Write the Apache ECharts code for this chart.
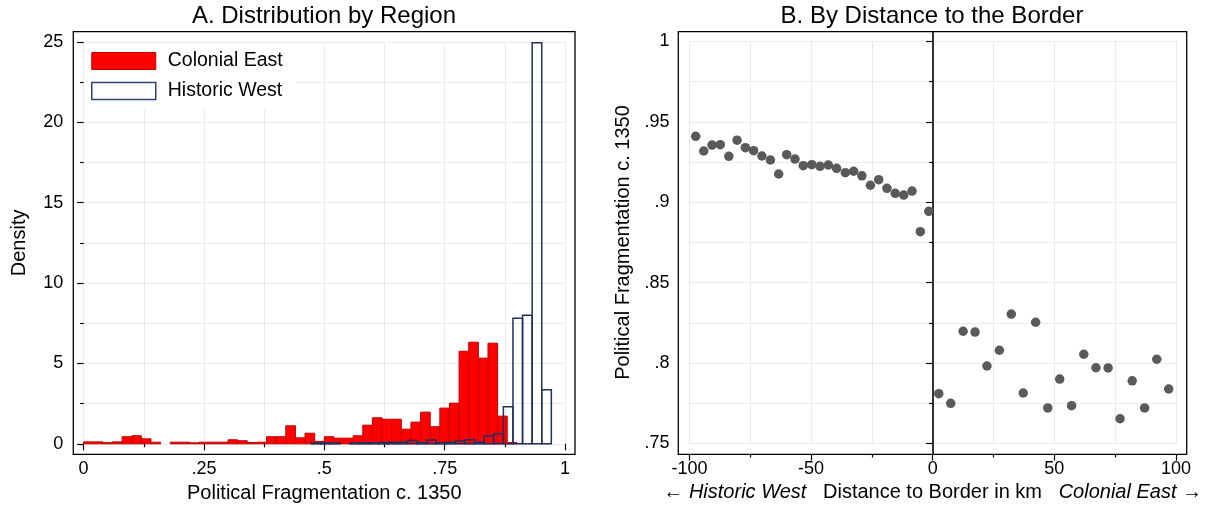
<!DOCTYPE html>
<html>
<head>
<meta charset="utf-8">
<script src="https://cdn.jsdelivr.net/npm/echarts@6/dist/echarts.min.js"></script>
<style>
html,body{margin:0;padding:0;background:#fff;}
#chart{width:1215px;height:508px;}
</style>
</head>
<body>
<div id="chart"></div>
<script>
// ---------- Panel A: histogram data (bin left edge, density) ----------
const redBinWidth = 0.02;
const redBinLeft = [0.00,0.02,0.04,0.06,0.08,0.10,0.12,0.14,0.16,0.18,0.20,0.22,0.24,0.26,0.28,0.30,0.32,0.34,0.36,0.38,0.40,0.42,0.44,0.46,0.48,0.50,0.52,0.54,0.56,0.58,0.60,0.62,0.64,0.66,0.68,0.70,0.72,0.74,0.76,0.78,0.80,0.82,0.84,0.86,0.88];
const redDensity = [0.12,0.12,0.07,0.12,0.44,0.50,0.31,0.10,0,0.10,0.10,0.06,0.10,0.10,0.10,0.25,0.19,0.08,0.10,0.44,0.44,1.12,0.37,0.66,0.15,0.44,0.35,0.35,0.50,1.16,1.62,1.53,1.53,0.91,1.35,1.97,1.06,2.22,2.53,5.76,6.32,5.33,6.26,1.72,0.08];

const westBinWidth = 0.0199;
const westBinLeft = [0.4734,0.4934,0.5133,0.5531,0.5731,0.5930,0.6129,0.6329,0.6528,0.6727,0.6926,0.7125,0.7324,0.7524,0.7723,0.7922,0.8122,0.8321,0.8520,0.8720,0.8919,0.9118,0.9318,0.9517];
const westDensity = [0.05,0.06,0.05,0.05,0.06,0.06,0.08,0.08,0.10,0.21,0.07,0.23,0.06,0.10,0.19,0.25,0.10,0.48,0.63,2.30,7.81,8.00,24.96,3.36];

const panelAxTicksX = ['0','.25','.5','.75','1'];

// ---------- Panel B: binned scatter ----------
const westDistance = [-97.4,-94.1,-90.7,-87.3,-83.8,-80.4,-77.0,-73.6,-70.2,-66.7,-63.3,-60.0,-56.6,-53.2,-49.7,-46.3,-42.9,-39.5,-35.9,-32.5,-29.1,-25.6,-22.2,-18.8,-15.4,-11.9,-8.5,-5.1,-1.6];
const westFragmentation = [0.941,0.9319,0.9356,0.9358,0.9286,0.9386,0.934,0.9321,0.9288,0.9263,0.9176,0.9296,0.9269,0.9228,0.9234,0.9224,0.9232,0.9211,0.9184,0.9193,0.9165,0.9106,0.9141,0.9087,0.9056,0.9045,0.907,0.8817,0.8944];
const eastDistance = [2.5,7.4,12.5,17.4,22.3,27.4,32.3,37.2,42.3,47.3,52.2,57.1,62.1,67.1,72.1,77.0,82.0,87.1,92.1,97.0];
const eastFragmentation = [0.781,0.775,0.8198,0.8193,0.7982,0.808,0.8305,0.7814,0.8254,0.7721,0.7901,0.7735,0.8055,0.7971,0.797,0.7654,0.789,0.7721,0.8024,0.7839];

// ---------- helpers ----------
function fracLabel(v){
  if (Math.abs(v) < 1e-9) return '0';
  if (Math.abs(v-1) < 1e-9) return '1';
  let s = (+v.toFixed(4)).toString();
  return s.replace(/^0\./,'.');
}
function histRender(width, style){
  return function(params, api){
    const x0 = api.value(0), h = api.value(1);
    if (!(h > 0)) return null;
    const a = api.coord([x0, 0]);
    const b = api.coord([x0 + width, h]);
    return {type:'rect', shape:{x:a[0], y:b[1], width:b[0]-a[0], height:a[1]-b[1]}, style: style};
  };
}

const FONT = 'Liberation Sans, Arial, Helvetica, sans-serif';
const gridLineStyle = {color:'#ebebeb', width:1};
const tickCommon = {show:true, inside:false, length:6.5, lineStyle:{color:'#000', width:1.2}};
const minorCommon = {show:true, splitNumber:2, length:3.5, lineStyle:{color:'#000', width:1.2}};
const labelCommon = {color:'#000', fontSize:18, fontFamily:FONT};

const chart = echarts.init(document.getElementById('chart'), null, {renderer:'canvas'});
chart.setOption({
  animation:false,
  backgroundColor:'#fff',
  textStyle:{fontFamily:FONT},
  title:[
    {text:'A. Distribution by Region', left:324, top:4, padding:0, textAlign:'center',
     textStyle:{fontSize:24, fontWeight:'normal', color:'#000', fontFamily:FONT}},
    {text:'B. By Distance to the Border', left:932, top:4, padding:0, textAlign:'center',
     textStyle:{fontSize:24, fontWeight:'normal', color:'#000', fontFamily:FONT}}
  ],
  legend:{
    left:84, top:43, orient:'vertical', icon:'rect', selectedMode:false,
    itemWidth:64, itemHeight:17, itemGap:10,
    backgroundColor:'#fff', padding:[8,14,8,7],
    textStyle:{fontSize:19.5, color:'#000', fontFamily:FONT, padding:[0,0,0,7]},
    data:[
      {name:'Colonial East', itemStyle:{color:'#ff0000', borderColor:'#c40000', borderWidth:1}},
      {name:'Historic West', itemStyle:{color:'#ffffff', borderColor:'#34426e', borderWidth:1.5}}
    ]
  },
  grid:[
    {left:73.3, top:31.7, width:501.7, height:422.6, show:true, borderColor:'#000', borderWidth:1.3, backgroundColor:'transparent'},
    {left:83.6, top:42, width:481.4, height:402},
    {left:678.3, top:31.7, width:508.4, height:422.6, show:true, borderColor:'#000', borderWidth:1.3, backgroundColor:'transparent'},
    {left:689.4, top:41.5, width:486.6, height:402}
  ],
  xAxis:[
    {gridIndex:0, type:'value', show:false, min:-0.0214, max:1.0208},
    {gridIndex:1, type:'value', min:0, max:1, interval:0.25, offset:10.3,
     axisLine:{show:false}, axisTick:tickCommon, minorTick:minorCommon,
     splitLine:{show:true, lineStyle:gridLineStyle}, minorSplitLine:{show:true, lineStyle:gridLineStyle},
     axisLabel:Object.assign({margin:6, formatter:(v)=>fracLabel(v)}, labelCommon),
     name:'Political Fragmentation c. 1350', nameLocation:'middle', nameGap:28,
     nameTextStyle:{fontSize:20, color:'#000', fontFamily:FONT}},
    {gridIndex:2, type:'value', show:false, min:-104.5, max:104.5},
    {gridIndex:3, type:'value', min:-100, max:100, interval:50, offset:10.5,
     axisLine:{show:false}, axisTick:tickCommon, minorTick:minorCommon,
     splitLine:{show:true, lineStyle:gridLineStyle}, minorSplitLine:{show:true, lineStyle:gridLineStyle},
     axisLabel:Object.assign({margin:6}, labelCommon),
     name:'← {i|Historic West}   Distance to Border in km   {i|Colonial East} →', nameLocation:'middle', nameGap:28,
     nameTextStyle:{fontSize:20, color:'#000', fontFamily:FONT,
       rich:{i:{fontStyle:'italic', fontSize:20, color:'#000', fontFamily:FONT}}}}
  ],
  yAxis:[
    {gridIndex:0, type:'value', show:false, min:-0.64, max:25.64},
    {gridIndex:1, type:'value', min:0, max:25, interval:5, offset:10.3,
     axisLine:{show:false}, axisTick:tickCommon, minorTick:minorCommon,
     splitLine:{show:true, lineStyle:gridLineStyle}, minorSplitLine:{show:true, lineStyle:gridLineStyle},
     axisLabel:Object.assign({margin:10}, labelCommon),
     name:'Density', nameLocation:'middle', nameGap:44,
     nameTextStyle:{fontSize:20, color:'#000', fontFamily:FONT}},
    {gridIndex:2, type:'value', show:false, min:0.7437, max:1.0063},
    {gridIndex:3, type:'value', min:0.75, max:1, interval:0.05, offset:11,
     axisLine:{show:false}, axisTick:tickCommon, minorTick:minorCommon,
     splitLine:{show:true, lineStyle:gridLineStyle}, minorSplitLine:{show:true, lineStyle:gridLineStyle},
     axisLabel:Object.assign({margin:9, formatter:(v)=>fracLabel(v)}, labelCommon),
     name:'Political Fragmentation c. 1350', nameLocation:'middle', nameGap:45,
     nameTextStyle:{fontSize:20, color:'#000', fontFamily:FONT}}
  ],
  series:[
    {name:'Colonial East', type:'custom', xAxisIndex:1, yAxisIndex:1,
     itemStyle:{color:'#ff0000'},
     renderItem: histRender(redBinWidth, {fill:'#ff0000', stroke:'#c40000', lineWidth:1}),
     data: redBinLeft.map((x,i)=>[x, redDensity[i]]), z:3},
    {name:'Historic West', type:'custom', xAxisIndex:1, yAxisIndex:1,
     itemStyle:{color:'#ffffff'},
     renderItem: histRender(westBinWidth, {fill:null, stroke:'#22305e', lineWidth:1.5}),
     data: westBinLeft.map((x,i)=>[x, westDensity[i]]), z:4},
    {name:'zero', type:'line', xAxisIndex:2, yAxisIndex:2, data:[], silent:true,
     markLine:{silent:true, symbol:'none', label:{show:false},
       lineStyle:{color:'#000', width:1.6, type:'solid'}, data:[{xAxis:0}]}},
    {name:'West bins', type:'scatter', xAxisIndex:3, yAxisIndex:3, symbolSize:9.5, clip:false,
     itemStyle:{color:'#5a5a5a', opacity:1},
     data: westDistance.map((x,i)=>[x, westFragmentation[i]]), z:5},
    {name:'East bins', type:'scatter', xAxisIndex:3, yAxisIndex:3, symbolSize:9.5, clip:false,
     itemStyle:{color:'#5a5a5a', opacity:1},
     data: eastDistance.map((x,i)=>[x, eastFragmentation[i]]), z:5}
  ]
});
</script>
</body>
</html>
